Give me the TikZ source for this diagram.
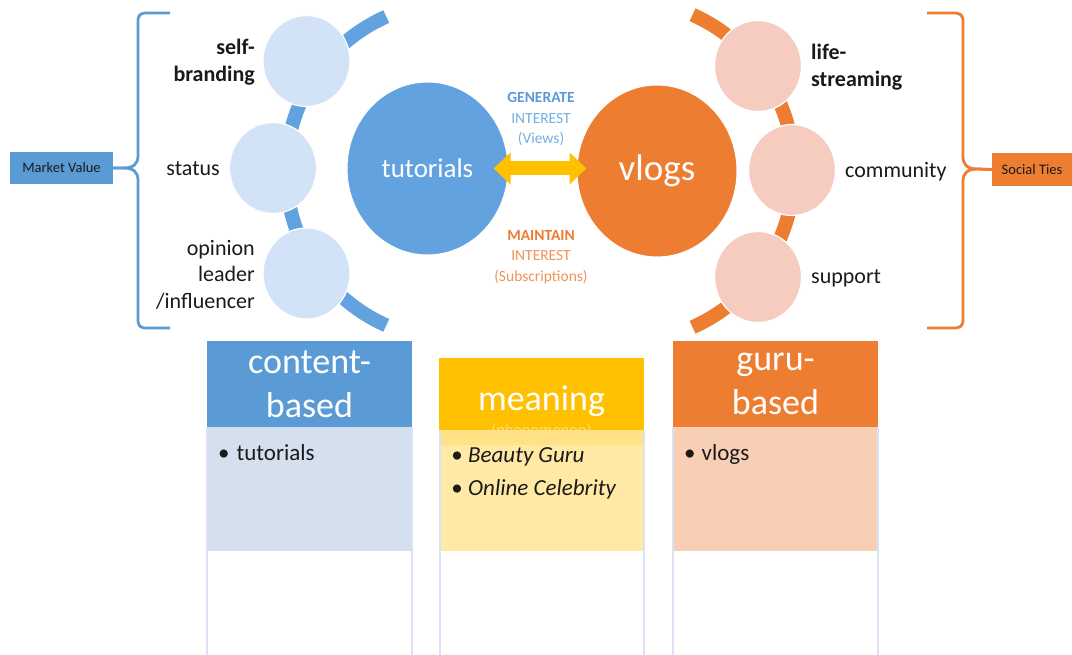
\documentclass[tikz,border=0pt]{standalone}
\usepackage{fontspec}
\setmainfont{Carlito}
\usetikzlibrary{shapes.geometric,arrows.meta}
\definecolor{blueA}{HTML}{62A3DF}
\definecolor{blueH}{HTML}{5B9BD5}
\definecolor{blueL}{HTML}{D3E3F7}
\definecolor{blueBody}{HTML}{D5E0EE}
\definecolor{orgA}{HTML}{ED7D31}
\definecolor{orgL}{HTML}{F5CCBF}
\definecolor{orgBody}{HTML}{F8CFB4}
\definecolor{yelA}{HTML}{FFC000}
\definecolor{yelBody}{HTML}{FFE699}
\definecolor{rule}{HTML}{DAE3F3}
\definecolor{blueTxt}{HTML}{5B9BD5}
\definecolor{blueTxtL}{HTML}{74AEE2}
\definecolor{orgTxt}{HTML}{ED7D31}
\definecolor{orgTxtL}{HTML}{F0925A}
\definecolor{ink}{HTML}{1A1A1A}
\begin{document}
\begin{tikzpicture}[x=1pt,y=1pt,
  arcband/.style={line width=14pt},
  smallc/.style={ellipse,minimum width=87pt,minimum height=91pt,inner sep=0pt,draw=white,line width=1.2pt},
  bigc/.style={ellipse,inner sep=0pt,draw=white,line width=1pt,text=white},
  lbl/.style={inner sep=0pt,text=ink,font=\fontsize{22}{26.5}\selectfont},
  lblb/.style={inner sep=0pt,text=ink,font=\fontsize{22}{27}\selectfont\bfseries},
  mid/.style={inner sep=0pt,align=center,font=\fontsize{15.5}{20.5}\selectfont},
  tag/.style={inner sep=0pt,text=ink,font=\fontsize{14.5}{17}\selectfont},
  bracel/.style={line width=2.8pt,line join=round},
  hdr/.style={inner sep=0pt,align=center,text=white,font=\fontsize{36}{44}\selectfont},
  bul/.style={inner sep=0pt,text=ink,font=\fontsize{23}{28}\selectfont},
  colrule/.style={draw=rule,line width=1.2pt},
  dblarrow/.style={draw=yelA,line width=14pt,{Triangle[width=31pt,length=17pt]}-{Triangle[width=31pt,length=17pt]},shorten <=-15pt,shorten >=-10pt}
]
\useasboundingbox (0,0) rectangle (1072,-655);

% arcs
\draw[arcband,draw=blueA] ([shift={(114:169)}]455,-171) arc[start angle=114,end angle=246,radius=169];
\draw[arcband,draw=orgA] ([shift={(-66:171)}]623,-171) arc[start angle=-66,end angle=66,radius=171];

% small circles
\node[smallc,fill=blueL] (sb) at (306.5,-61) {};
\node[smallc,fill=blueL] (st) at (273,-168) {};
\node[smallc,fill=blueL] (op) at (306.5,-273.5) {};
\node[smallc,fill=orgL] (ls) at (758,-66) {};
\node[smallc,fill=orgL] (cm) at (792,-170) {};
\node[smallc,fill=orgL] (sp) at (758,-277) {};

% big circles
\node[bigc,fill=blueA,minimum width=161pt,minimum height=173pt,font=\fontsize{27}{32}\selectfont] (tut) at (427.5,-168.5) {tutorials};
\node[bigc,fill=orgA,minimum width=160pt,minimum height=172pt,font=\fontsize{37}{44}\selectfont] (vlog) at (657,-171) {\raisebox{-2pt}{vlogs}};

% double arrow
\draw[dblarrow] (tut.east) -- (tut.east -| vlog.west);

% labels
\node[lblb,align=right,anchor=east] (lsb) at (255,-62) {self-\\branding};
\node[lbl,anchor=east] (lst) at (220,-169) {status};
\node[lbl,align=right,anchor=east] (lop) at (255,-274.5) {opinion\\leader\\/influencer};
\node[lblb,align=left,anchor=west] (lls) at (811,-67.5) {life-\\streaming};
\node[lbl,anchor=west] (lcm) at (845,-171.5) {community};
\node[lbl,anchor=west] (lsp) at (811,-278.5) {support};

% middle texts
\node[mid] (gen) at (541,-119) {{\color{blueTxt}\bfseries GENERATE}\\{\color{blueTxtL}INTEREST}\\{\color{blueTxtL}(Views)}};
\node[mid] (mnt) at (541,-257) {{\color{orgTxt}\bfseries MAINTAIN}\\{\color{orgTxtL}INTEREST}\\{\color{orgTxtL}(Subscriptions)}};

% tags
\node[tag,fill=blueH,minimum width=103pt,minimum height=32pt] (mv) at (61.5,-168) {Market Value};
\node[tag,fill=orgA,minimum width=80pt,minimum height=33pt] (stie) at (1032,-169.5) {Social Ties};

% braces
\draw[bracel,draw=blueH] (170,-13) -- (147,-13) .. controls (140,-13) and (138,-15) .. (138,-22)
  -- (138,-156) .. controls (138,-164) and (133,-168) .. (124,-168) -- (mv.east);
\draw[bracel,draw=blueH] (mv.east) -- (124,-168) .. controls (133,-168) and (138,-172) .. (138,-180)
  -- (138,-319) .. controls (138,-326) and (140,-328) .. (147,-328) -- (170,-328);
\draw[bracel,draw=orgA] (927,-13) -- (953,-13) .. controls (961,-13) and (963,-15) .. (963,-22)
  -- (963,-157) .. controls (963,-165) and (968,-169) .. (977,-169) -- (stie.west);
\draw[bracel,draw=orgA] (stie.west) -- (977,-169) .. controls (968,-169) and (963,-173) .. (963,-181)
  -- (963,-319) .. controls (963,-326) and (961,-328) .. (953,-328) -- (927,-328);

% column: content-based
\fill[blueBody] (207,-427) rectangle (412,-551);
\draw[colrule] (207,-427) -- (207,-655) (412,-427) -- (412,-655);
\node[hdr,fill=blueH,minimum width=205pt,minimum height=86pt] (cb) at (309.5,-384) {content-\\based};
\node[bul,anchor=base west] (cbt) at (218,-460) {\textbullet\hspace{7pt}tutorials};

% column: meaning
\node[hdr,fill=yelA,minimum width=205pt,minimum height=87pt] (mn) at (541.5,-401.5) {meaning};
\node[inner sep=0pt,text=white,text opacity=0.45,font=\fontsize{16.5}{20}\selectfont] (phen) at (541.5,-431) {(phenomenon)};
\fill[yelBody,fill opacity=0.88] (440,-430) rectangle (644,-551);
\draw[colrule] (440,-430) -- (440,-655) (644,-430) -- (644,-655);
\node[bul,anchor=base west,font=\fontsize{23}{28}\selectfont\itshape] (bg) at (451,-462) {\textbullet\hspace{5.5pt}Beauty Guru};
\node[bul,anchor=base west,font=\fontsize{23}{28}\selectfont\itshape] (oc) at (451,-495) {\textbullet\hspace{5.5pt}Online Celebrity};

% column: guru-based
\fill[orgBody] (673,-427) rectangle (878,-551);
\draw[colrule] (673,-427) -- (673,-655) (878,-427) -- (878,-655);
\node[hdr,fill=orgA,minimum width=205pt,minimum height=86pt] (gb) at (775.5,-384) {guru-\\based};
\node[bul,anchor=base west] (gbt) at (684,-460) {\textbullet\hspace{6pt}vlogs};
\end{tikzpicture}
\end{document}
